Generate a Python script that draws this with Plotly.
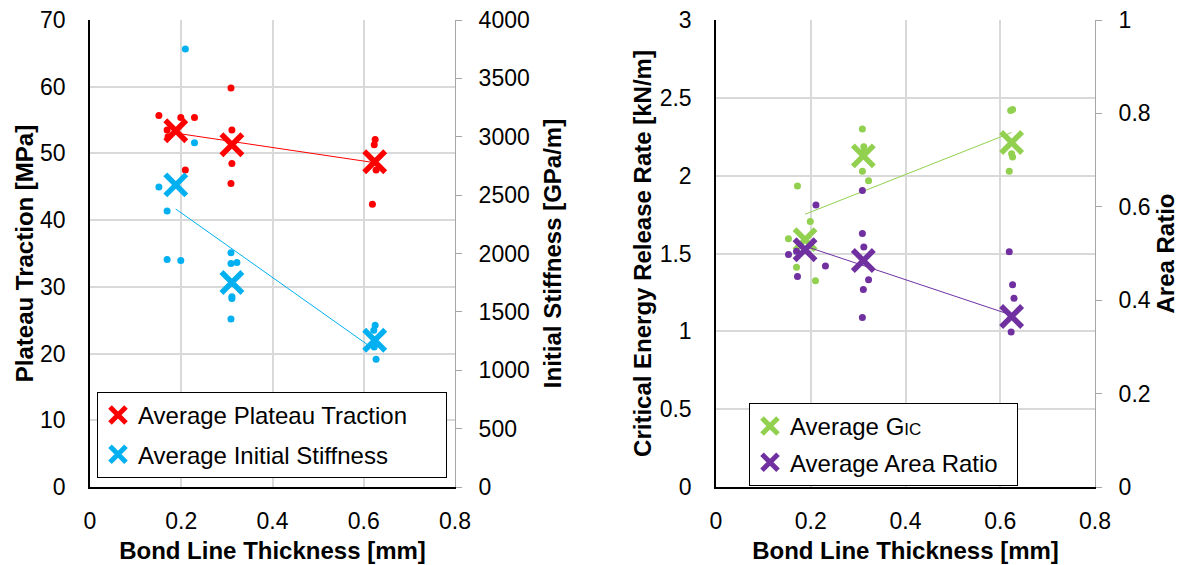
import numpy as np
import plotly.graph_objects as go

# ---------------- data ----------------
# Left chart: plateau traction (MPa, left axis) and initial stiffness (GPa/m, right axis)
traction_x = [0.151, 0.199, 0.229, 0.169, 0.171, 0.209,
              0.309, 0.311, 0.311, 0.309,
              0.625, 0.623, 0.627, 0.619]
traction_y = [55.7, 55.4, 55.4, 53.5, 52.5, 47.5,
              59.8, 53.5, 48.5, 45.5,
              52.1, 51.3, 47.5, 42.4]
stiff_x = [0.209, 0.229, 0.151, 0.169, 0.169, 0.199,
           0.309, 0.309, 0.322, 0.311, 0.311, 0.309,
           0.625, 0.622, 0.623, 0.627]
stiff_y = [3751, 2949, 2569, 2363, 1949, 1940,
           2006, 1915, 1923, 1629, 1615, 1440,
           1386, 1343, 1200, 1094]
avg_x = [0.188, 0.311, 0.624]
avg_traction = [53.4, 51.3, 48.75]
avg_stiffness = [2588, 1752, 1257]

# Right chart: critical energy release rate (kN/m, left axis) and area ratio (right axis)
gic_x = [0.172, 0.199, 0.153, 0.170, 0.210,
         0.309, 0.312, 0.311, 0.309, 0.322,
         0.622, 0.626, 0.626, 0.624, 0.619]
gic_y = [1.934, 1.706, 1.595, 1.412, 1.325,
         2.299, 2.185, 2.150, 2.028, 1.968,
         2.419, 2.425, 2.120, 2.140, 2.028]
area_x = [0.211, 0.153, 0.170, 0.172, 0.231,
          0.309, 0.309, 0.312, 0.322, 0.311, 0.309,
          0.619, 0.626, 0.629, 0.623, 0.629]
area_y = [0.604, 0.498, 0.505, 0.451, 0.473,
          0.635, 0.543, 0.514, 0.444, 0.423, 0.363,
          0.504, 0.433, 0.404, 0.332, 0.133]
avg_gic = [1.589, 2.127, 2.213]
avg_area = [0.508, 0.485, 0.365]

x_ticks = [0, 0.2, 0.4, 0.6, 0.8]

# ---------------- style ----------------
FONT = "Liberation Sans, Arial, sans-serif"
RED, BLUE, GREEN, PURPLE = "#FF0000", "#00B0F0", "#92D050", "#7030A0"
GRID = "#D9D9D9"
AXGREY = "#A6A6A6"
TICK = 23
TITLE = 24
LEG = 24
PAD = "&nbsp;" * 5
PAD2 = "&nbsp;" * 2


def trend(xs, ys):
    k, b = np.polyfit(xs, ys, 1)
    xx = np.array([min(xs), max(xs)])
    return xx, k * xx + b


fig = go.Figure()


def add_series(xs, ys, ax, ay, avx, avy, color, name, legend, group):
    fig.add_trace(go.Scatter(x=xs, y=ys, mode="markers", xaxis=ax, yaxis=ay,
                             marker=dict(color=color, size=7), showlegend=False,
                             hoverinfo="skip"))
    tx, ty = trend(avx, avy)
    fig.add_trace(go.Scatter(x=tx, y=ty, mode="lines", xaxis=ax, yaxis=ay,
                             line=dict(color=color, width=1), showlegend=False,
                             hoverinfo="skip"))
    fig.add_trace(go.Scatter(x=avx, y=avy, mode="markers", xaxis=ax, yaxis=ay,
                             name=name, legend=legend, legendgroup=group,
                             marker=dict(symbol="x-thin", size=21, color=color,
                                         line=dict(color=color, width=5.5))))


add_series(traction_x, traction_y, "x", "y", avg_x, avg_traction, RED,
           "Average Plateau Traction" + PAD, "legend", "a")
add_series(stiff_x, stiff_y, "x", "y2", avg_x, avg_stiffness, BLUE,
           "Average Initial Stiffness" + PAD, "legend", "b")
add_series(gic_x, gic_y, "x2", "y3", avg_x, avg_gic, GREEN,
           "Average G<span style='font-size:17px'>IC</span>", "legend2", "c")
add_series(area_x, area_y, "x2", "y4", avg_x, avg_area, PURPLE,
           "Average Area Ratio" + PAD2, "legend2", "d")

W, H = 1186, 565
ML, MR, MT, MB = 90, 91, 20, 78
PW = W - ML - MR
PH = H - MT - MB


def px_x(p):
    return (p - ML) / PW


def px_y(p):
    return (H - MB - p) / PH


xcommon = dict(range=[0, 0.8], tickvals=x_ticks, showgrid=True, gridcolor=GRID,
               gridwidth=1.5, zeroline=False, showline=True, linecolor="black",
               linewidth=1.5, ticks="", ticklabelstandoff=13, tickangle=0,
               automargin=False,
               tickfont=dict(size=TICK, color="black", family=FONT),
               title=dict(text="<b>Bond Line Thickness [mm]</b>",
                          font=dict(size=TITLE, color="black", family=FONT),
                          standoff=9))
yleft = dict(showgrid=True, gridcolor=GRID, gridwidth=1.5, zeroline=False,
             showline=True, linecolor="black", linewidth=1.5, ticks="",
             automargin=False,
             ticklabelstandoff=18, tickfont=dict(size=TICK, color="black", family=FONT))
yright = dict(showgrid=False, zeroline=False, showline=True, linecolor=AXGREY,
              linewidth=1, ticks="outside", ticklen=6, tickcolor=AXGREY,
              automargin=False,
              ticklabelstandoff=12, tickfont=dict(size=TICK, color="black", family=FONT))

fig.update_layout(
    width=W, height=H,
    margin=dict(l=ML, r=MR, t=MT, b=MB, autoexpand=False),
    paper_bgcolor="white", plot_bgcolor="white",
    font=dict(family=FONT, color="black"),
    xaxis=dict(domain=[0, px_x(455)], anchor="y", **xcommon),
    xaxis2=dict(domain=[px_x(716), 1], anchor="y3", **xcommon),
    yaxis=dict(range=[0, 70], dtick=10, anchor="x", **yleft,
               title=dict(text="<b>Plateau Traction [MPa]</b>",
                          font=dict(size=TITLE, color="black", family=FONT),
                          standoff=0)),
    yaxis2=dict(range=[0, 4000], dtick=500, anchor="x", overlaying="y", side="right",
                **yright,
                title=dict(text="<b>Initial Stiffness [GPa/m]</b>",
                           font=dict(size=TITLE, color="black", family=FONT),
                           standoff=15)),
    yaxis3=dict(range=[0, 3], dtick=0.5, anchor="x2", **yleft,
                title=dict(text="<b>Critical Energy Release Rate [kN/m]</b>",
                           font=dict(size=TITLE, color="black", family=FONT),
                           standoff=1)),
    yaxis4=dict(range=[0, 1], dtick=0.2, anchor="x2", overlaying="y3", side="right",
                **yright,
                title=dict(text="<b>Area Ratio</b>",
                           font=dict(size=TITLE, color="black", family=FONT),
                           standoff=7)),
    legend=dict(x=px_x(97), y=px_y(392), xref="paper", yref="paper",
                xanchor="left", yanchor="top", bgcolor="white",
                bordercolor="black", borderwidth=1, tracegroupgap=5,
                font=dict(size=LEG, color="black", family=FONT)),
    legend2=dict(x=px_x(749), y=px_y(403), xref="paper", yref="paper",
                 xanchor="left", yanchor="top", bgcolor="white",
                 bordercolor="black", borderwidth=1, tracegroupgap=2,
                 font=dict(size=LEG, color="black", family=FONT)),
    showlegend=True,
)

fig.write_html("out.html")
